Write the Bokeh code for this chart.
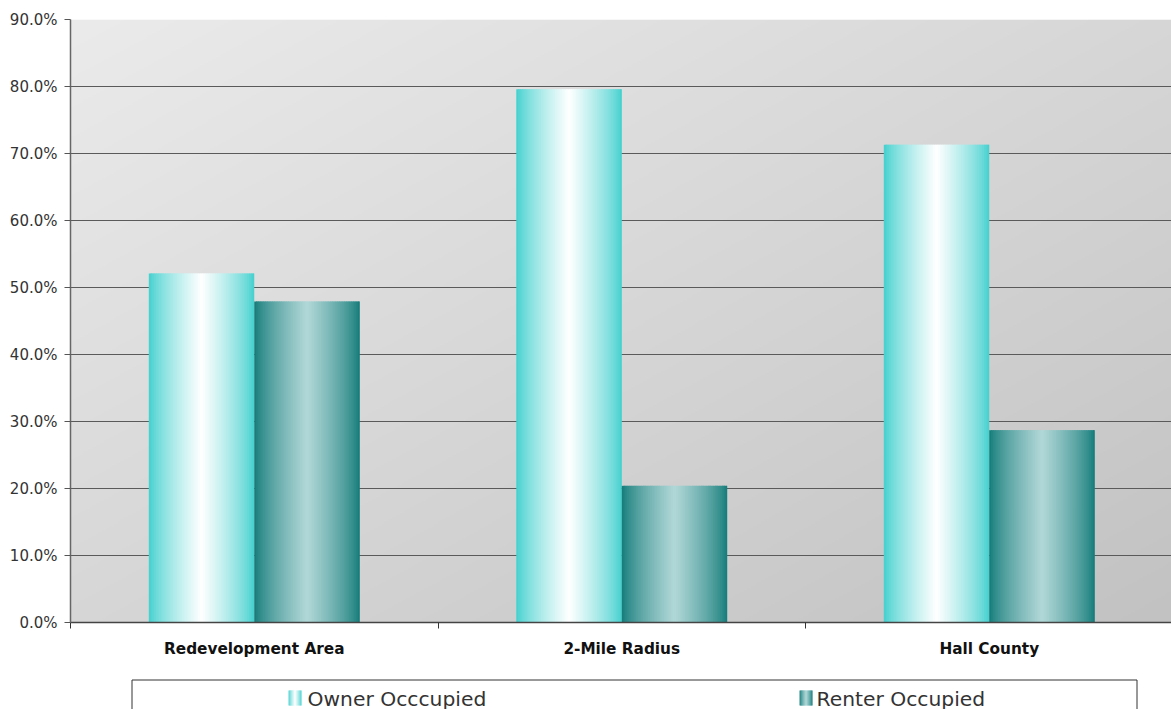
import numpy as np
from bokeh.plotting import figure
from bokeh.layouts import column
from bokeh.models import Range1d, FixedTicker, PrintfTickFormatter, ColumnDataSource
from bokeh.core.properties import value
from bokeh.embed import file_html
from bokeh.resources import INLINE

# Housing tenure shares (percent of occupied units)
categories = ["Redevelopment Area", "2-Mile Radius", "Hall County"]
owner_pct = [52.1, 79.6, 71.3]
renter_pct = [47.9, 20.4, 28.7]
series_names = ["Owner Occcupied", "Renter Occupied"]
y_ticks = [0, 10, 20, 30, 40, 50, 60, 70, 80, 90]

# Styling
OWNER_EDGE = (62, 207, 205)
OWNER_MID = (255, 255, 255)
RENTER_EDGE = (16, 122, 120)
RENTER_MID = (178, 216, 216)
BAR_WIDTH = 0.287          # fraction of one category slot
SLICES = 60                # vertical strips used for the horizontal shading
SHADE_POWER = 0.75         # <1 widens the light band in the middle of a bar
FONT = "DejaVu Sans"
LEFT = 70                  # left border in pixels, shared by both panels

X_END = 1101 / 367.5       # the frame ends just before the third slot's edge
Y_END = 90


def hexcol(c):
    return "#%02x%02x%02x" % tuple(int(round(v)) for v in c)


def shade(edge, mid, t):
    s = (1.0 - abs(2.0 * t - 1.0)) ** SHADE_POWER
    return hexcol([e + (m - e) * s for e, m in zip(edge, mid)])


def shaded_strips(x0, x1, y0, y1, edge, mid, n):
    xs = np.linspace(x0, x1, n + 1)
    step = (x1 - x0) / n
    # each strip reaches a little under its right neighbour so no seams show
    rights = [min(xs[k + 1] + 0.8 * step, x1) for k in range(n)]
    cols = [shade(edge, mid, (k + 0.5) / n) for k in range(n)]
    return dict(left=list(xs[:-1]), right=rights,
                bottom=[y0] * n, top=[y1] * n, color=cols)


def merge(parts):
    out = {k: [] for k in ("left", "right", "bottom", "top", "color")}
    for part in parts:
        for k in out:
            out[k].extend(part[k])
    return out


p = figure(width=1171, height=675,
           x_range=Range1d(0, X_END), y_range=Range1d(0, Y_END),
           output_backend="svg", toolbar_location=None,
           min_border_left=LEFT, min_border_right=0,
           min_border_top=19, min_border_bottom=53)
p.outline_line_color = None
p.border_fill_color = "white"

# Diagonal grey backdrop of the plotting area
nx, ny = 550, 300
xf = np.linspace(0, 1, nx)[None, :]
yf_top = 1.0 - np.linspace(0, 1, ny)[:, None]
g = (235 - 41 * (xf + yf_top) / 2).astype(np.uint32)
img = (255 << 24) | (g << 16) | (g << 8) | g
p.image_rgba(image=[img.astype(np.uint32)], x=0, y=0, dw=X_END, dh=Y_END, level="image")

# Bars, each built from thin strips so that it carries a horizontal shading
parts = []
for i, (o, r) in enumerate(zip(owner_pct, renter_pct)):
    c = i + 0.5
    parts.append(shaded_strips(c - BAR_WIDTH, c, 0, o, OWNER_EDGE, OWNER_MID, SLICES))
    parts.append(shaded_strips(c, c + BAR_WIDTH, 0, r, RENTER_EDGE, RENTER_MID, SLICES))
src = ColumnDataSource(merge(parts))
p.quad(left="left", right="right", bottom="bottom", top="top", source=src,
       fill_color="color", line_color=None)

# Grid
p.xgrid.visible = False
p.ygrid.ticker = FixedTicker(ticks=y_ticks)
p.ygrid.grid_line_color = "#5a5a5a"
p.ygrid.grid_line_width = 1

# Value axis
ya = p.yaxis[0]
ya.ticker = FixedTicker(ticks=y_ticks)
ya.formatter = PrintfTickFormatter(format="%.1f%%")
ya.major_tick_out = 6
ya.major_tick_in = 0
ya.minor_tick_out = 0
ya.minor_tick_in = 0
ya.axis_line_color = "#666666"
ya.axis_line_width = 1.5
ya.major_tick_line_color = "#555555"
ya.major_label_text_font = FONT
ya.major_label_text_font_size = "15px"
ya.major_label_text_color = "#333333"
ya.major_label_standoff = 7

# Category axis: names centred in each slot, ticks on slot boundaries
xa = p.xaxis[0]
centers = [i + 0.5 for i in range(len(categories))]
xa.ticker = FixedTicker(ticks=centers, minor_ticks=list(range(len(categories) + 1)))
xa.major_label_overrides = {c: name for c, name in zip(centers, categories)}
xa.major_tick_out = 0
xa.major_tick_in = 0
xa.minor_tick_out = 6
xa.minor_tick_in = 0
xa.minor_tick_line_color = "#333333"
xa.axis_line_color = "#444444"
xa.axis_line_width = 1.5
xa.major_label_text_font = FONT
xa.major_label_text_font_style = "bold"
xa.major_label_text_font_size = "15.3px"
xa.major_label_text_color = "#111111"
xa.major_label_standoff = 11

# Legend strip below the chart; its x units are page pixels
lg = figure(width=1171, height=34, x_range=Range1d(LEFT, 1171), y_range=Range1d(34, 0),
            output_backend="svg", toolbar_location=None,
            x_axis_type=None, y_axis_type=None,
            min_border_left=LEFT, min_border_right=0, min_border_top=0, min_border_bottom=0)
lg.outline_line_color = None
lg.xgrid.visible = False
lg.ygrid.visible = False
lg.background_fill_color = "white"
lg.border_fill_color = "white"

lg.quad(left=[131.5], right=[1136.5], top=[4.5], bottom=[60],
        fill_color=None, line_color="#333333", line_width=1)

icon_x = [288, 799]
text_x = [307, 816]
icons = [shaded_strips(icon_x[0], icon_x[0] + 13, 15, 30, OWNER_EDGE, OWNER_MID, 13),
         shaded_strips(icon_x[1], icon_x[1] + 13, 15, 30, RENTER_EDGE, RENTER_MID, 13)]
lg.quad(left="left", right="right", bottom="bottom", top="top",
        source=ColumnDataSource(merge(icons)),
        fill_color="color", line_color=None)
lg.text(x=text_x, y=[23, 23], text=series_names,
        text_font=value(FONT), text_font_size="20.3px", text_color="#333333",
        text_baseline="middle", text_align="left")

layout = column(p, lg, spacing=0)
open("out.html", "w").write(file_html(layout, INLINE))
